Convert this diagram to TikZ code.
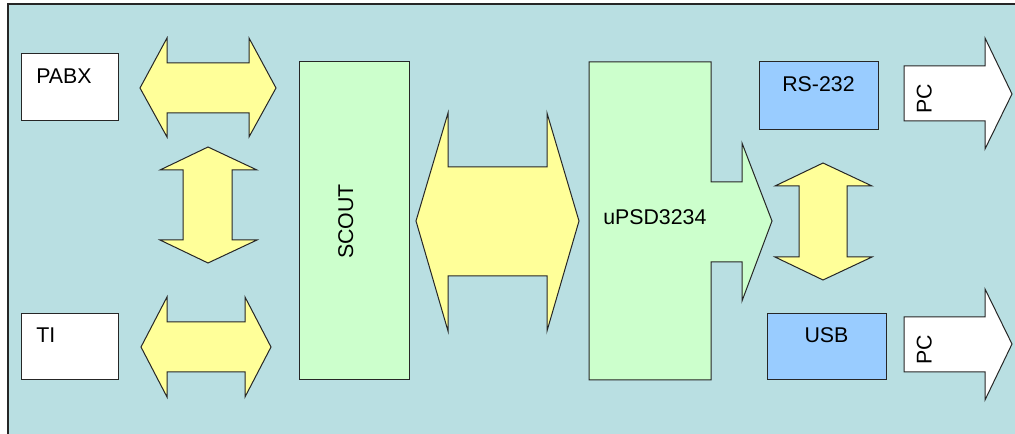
\documentclass[tikz,border=0pt]{standalone}
\usepackage{fontspec}
\setmainfont{Liberation Sans}
\usetikzlibrary{positioning}

\definecolor{panel}{HTML}{B9DFE2}
\definecolor{busyellow}{HTML}{FFFF99}
\definecolor{chipgreen}{HTML}{CCFFCC}
\definecolor{portblue}{HTML}{99CCFF}

\begin{document}
\begin{tikzpicture}[x=0.75pt, y=-0.75pt, line join=miter,
  outline/.style={draw=black!85, line width=0.75pt},
  bus/.style={outline, fill=busyellow},
  lbl/.style={inner sep=0pt, font=\fontsize{16}{19}\selectfont}]

\useasboundingbox (0,0) rectangle (1015,434);
\clip (0,0) rectangle (1015,434);

% ---- the panel ------------------------------------------------------------------
\draw[draw=black!85, line width=1.2pt, fill=panel] (8,4) rectangle (1030,450);

% ---- line side ------------------------------------------------------------------
\draw[outline, fill=white] (21,54) rectangle (118,121);
\node[lbl, anchor=base west] (pabx) at (36,84) {PABX};
\draw[outline, fill=white] (21,314) rectangle (118,380);
\node[lbl, anchor=base west] (ti) at (36,343) {TI};

\draw[bus] (140,88) -- (167,38) -- (167,63) -- (249,63) -- (249,38) -- (276,88)
  -- (249,137) -- (249,113) -- (167,113) -- (167,137) -- cycle;
\draw[bus] (208,147) -- (257,170) -- (232,170) -- (232,240) -- (257,240) -- (208,263)
  -- (160,240) -- (183,240) -- (183,170) -- (160,170) -- cycle;
\draw[bus] (141,347) -- (167,297) -- (167,322) -- (245,322) -- (245,297) -- (271,347)
  -- (245,397) -- (245,372) -- (167,372) -- (167,397) -- cycle;

% ---- the two chips --------------------------------------------------------------
\draw[outline, fill=chipgreen] (299,62) rectangle (409,380);
\node[lbl, rotate=90, anchor=base] (scout) at (353,221.5) {SCOUT};

\draw[bus] (416,221) -- (448,113) -- (448,167) -- (547,167) -- (547,113) -- (579,221)
  -- (547,331) -- (547,276) -- (448,276) -- (448,331) -- cycle;

\draw[outline, fill=chipgreen] (589,62) -- (711,62) -- (711,182) -- (742,182) -- (742,143)
  -- (772,221) -- (742,301) -- (742,262) -- (711,262) -- (711,380) -- (589,380) -- cycle;
\node[lbl, anchor=base west] (upsd) at (603,225) {uPSD3234};

% ---- ports to the PC ------------------------------------------------------------
\draw[outline, fill=portblue] (759,62) rectangle (878,130);
\node[lbl, anchor=base] (rs) at (818.5,92) {RS-232};
\draw[outline, fill=portblue] (767,314) rectangle (886,380);
\node[lbl, anchor=base] (usb) at (826.5,343) {USB};

\draw[bus] (823,163) -- (872,186) -- (847,186) -- (847,257) -- (872,257) -- (823,280)
  -- (775,257) -- (799,257) -- (799,186) -- (775,186) -- cycle;

\draw[outline, fill=white] (904,66) -- (985,66) -- (985,38) -- (1012,94) -- (985,149)
  -- (985,121) -- (904,121) -- cycle;
\node[lbl, rotate=90, anchor=base] (pcA) at (931.5,99) {PC};
\draw[outline, fill=white] (904,317) -- (985,317) -- (985,289) -- (1012,344) -- (985,400)
  -- (985,372) -- (904,372) -- cycle;
\node[lbl, rotate=90, anchor=base] (pcB) at (931.5,350) {PC};

\end{tikzpicture}
\end{document}
